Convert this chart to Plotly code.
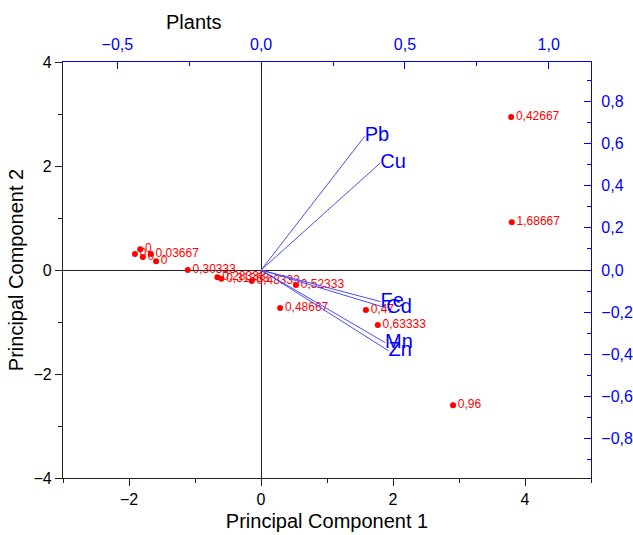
import plotly.graph_objects as go

# Scores (Principal Component 1 / 2) with sample labels
score_labels = ["0,42667", "1,68667", "0,96", "0,63333", "0,47", "0,48667",
                "0,52333", "0,48333", "0,31333", "0,28333", "0,30333",
                "0", "0", "0", "0,03667", "0"]
score_pc1 = [3.79, 3.80, 2.91, 1.77, 1.59, 0.29,
             0.53, -0.14, -0.60, -0.66, -1.11,
             -1.91, -1.83, -1.79, -1.67, -1.59]
score_pc2 = [2.94, 0.92, -2.60, -1.06, -0.77, -0.73,
             -0.29, -0.21, -0.17, -0.14, 0.00,
             0.31, 0.40, 0.25, 0.31, 0.17]

# Loadings (Plants axes)
load_names = ["Pb", "Cu", "Fe", "Cd", "Mn", "Zn"]
load_x = [0.360, 0.414, 0.415, 0.435, 0.431, 0.443]
load_y = [0.635, 0.508, -0.150, -0.180, -0.345, -0.384]

FONT = "Arial, Liberation Sans, sans-serif"
BLUE = "#0000ff"
VEC = "#4b4bff"

fig = go.Figure()

for name, lx, ly in zip(load_names, load_x, load_y):
    fig.add_trace(go.Scatter(
        x=[0, lx], y=[0, ly], xaxis="x2", yaxis="y2",
        mode="lines+text", text=["", name], textposition="middle right",
        textfont=dict(family=FONT, size=20, color=BLUE),
        line=dict(color=VEC, width=1), hoverinfo="skip", showlegend=False))

fig.add_trace(go.Scatter(
    x=score_pc1, y=score_pc2, xaxis="x", yaxis="y",
    mode="markers+text", text=score_labels, textposition="middle right",
    textfont=dict(family=FONT, size=12, color="#ff0000"),
    marker=dict(color="#ff0000", size=6), showlegend=False))

fig.update_layout(
    width=633, height=535,
    margin=dict(l=63, r=42, t=62, b=57, autoexpand=False),
    paper_bgcolor="white", plot_bgcolor="white",
    separators=",.",
    font=dict(family=FONT, size=16, color="black"),
    xaxis=dict(range=[-3, 5], dtick=2, tick0=0, showgrid=False, automargin=False,
               showline=True, linecolor="#222", linewidth=1.3,
               ticks="outside", ticklen=7, tickcolor="#222",
               minor=dict(dtick=1, ticks="outside", ticklen=4, tickcolor="#222", showgrid=False),
               zeroline=True, zerolinecolor="#222", zerolinewidth=1.3,
               tickfont=dict(size=16, color="black"),
               title=dict(text="Principal Component 1", font=dict(size=20), standoff=6)),
    yaxis=dict(range=[-4, 4], dtick=2, tick0=0, showgrid=False, automargin=False,
               showline=True, linecolor="#222", linewidth=1.3,
               ticks="outside", ticklen=7, tickcolor="#222",
               minor=dict(dtick=1, ticks="outside", ticklen=4, tickcolor="#222", showgrid=False),
               zeroline=True, zerolinecolor="#222", zerolinewidth=1.3,
               tickfont=dict(size=16, color="black"),
               title=dict(text="Principal Component 2", font=dict(size=20), standoff=4)),
    xaxis2=dict(range=[-0.689, 1.147], overlaying="x", side="top", anchor="y",
                dtick=0.5, tick0=0, tickformat=".1f", showgrid=False, zeroline=False,
                automargin=False, ticklabelstandoff=4,
                showline=True, linecolor=BLUE, linewidth=1.3,
                ticks="inside", ticklen=7, tickcolor=BLUE,
                minor=dict(dtick=0.25, ticks="inside", ticklen=4, tickcolor=BLUE, showgrid=False),
                tickfont=dict(size=16, color=BLUE)),
    yaxis2=dict(range=[-0.988, 0.988], overlaying="y", side="right", anchor="x",
                dtick=0.2, tick0=0, tickformat=".1f", showgrid=False, zeroline=False,
                automargin=False, ticklabelstandoff=6,
                showline=True, linecolor=BLUE, linewidth=1.3,
                ticks="inside", ticklen=7, tickcolor=BLUE,
                minor=dict(dtick=0.1, ticks="inside", ticklen=4, tickcolor=BLUE, showgrid=False),
                tickfont=dict(size=16, color=BLUE)),
    annotations=[dict(text="Plants", xref="paper", yref="paper", x=0.248, y=1.0,
                      yshift=40, xanchor="center", yanchor="middle", showarrow=False,
                      font=dict(family=FONT, size=20, color="black"))],
)

fig.write_html("out.html")
